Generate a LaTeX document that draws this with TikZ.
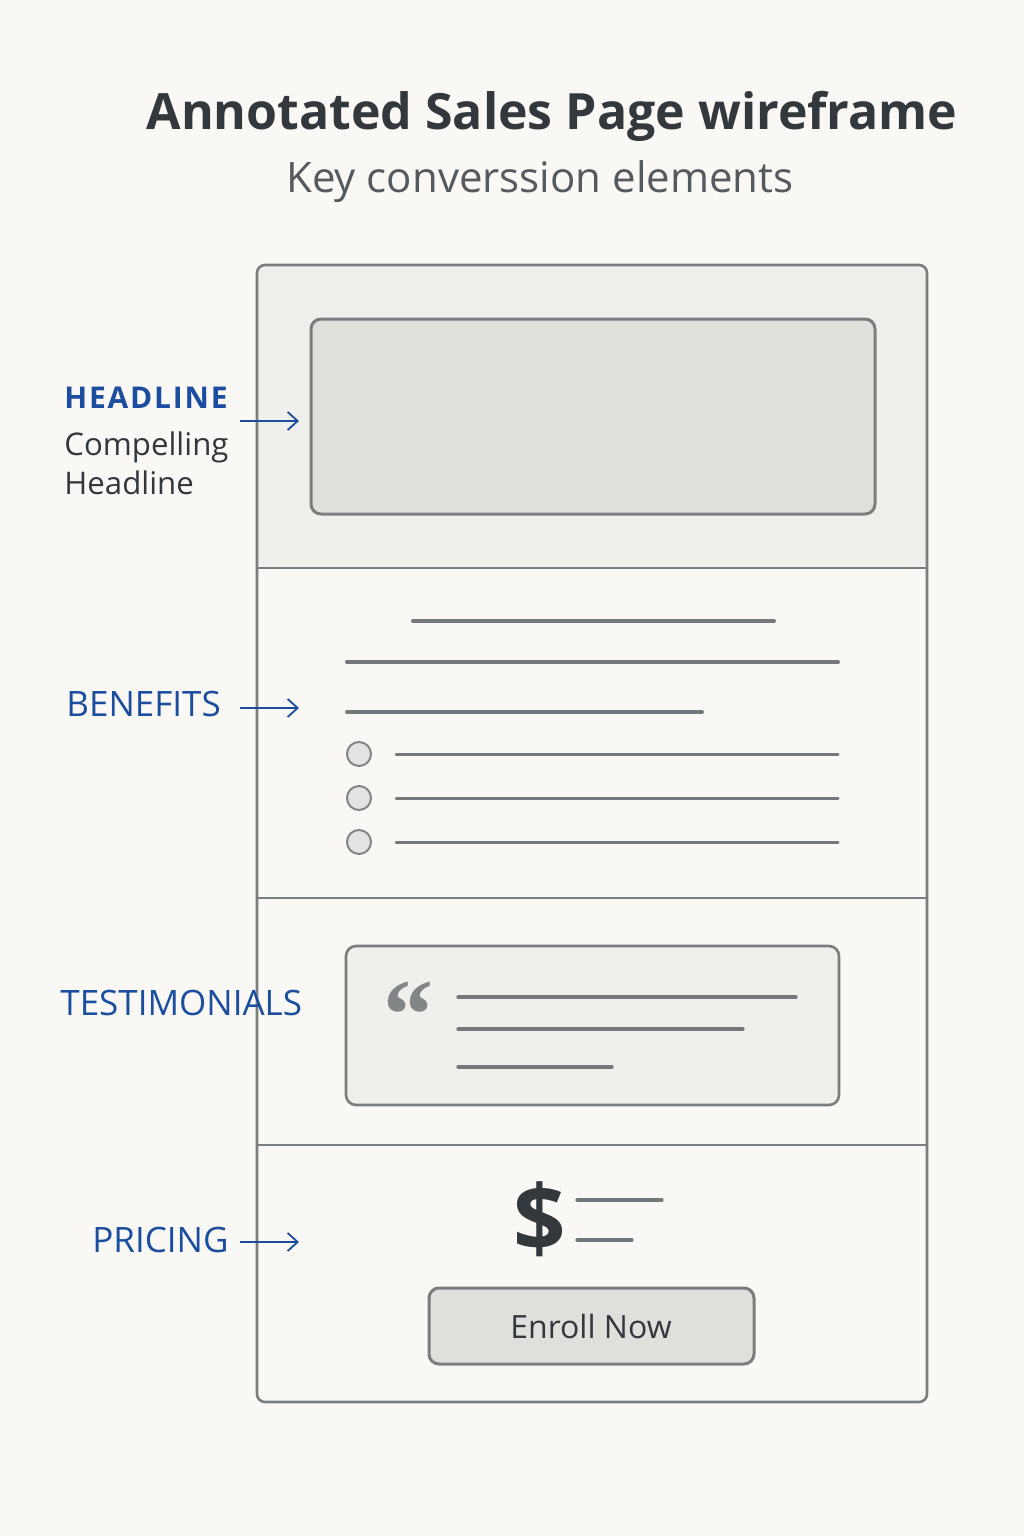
\documentclass[tikz,border=0pt]{standalone}
\usepackage{fontspec}
\setmainfont{Open Sans}
\newfontfamily\quotefont{Liberation Serif}
\usetikzlibrary{arrows.meta}

\definecolor{paper}{HTML}{F9F8F5}
\definecolor{ink}{HTML}{33383D}
\definecolor{subink}{HTML}{555A5E}
\definecolor{tagblue}{HTML}{1B4E9E}
\definecolor{frameGray}{HTML}{7C7E7E}
\definecolor{lineGray}{HTML}{75787A}
\definecolor{heroFill}{HTML}{EFEFEC}
\definecolor{boxFill}{HTML}{DFDFDC}
\definecolor{dotFill}{HTML}{E3E3E1}

\tikzset{
  tag/.style={anchor=base west, text=tagblue, font=\fontsize{17.5}{20}\selectfont, inner sep=0pt},
  textline/.style={line width=2pt, draw=lineGray, line cap=round},
  frameline/.style={line width=1.3pt, draw=frameGray},
  tagarrow/.style={->, line width=0.9pt, draw=tagblue}
}

\begin{document}
\begin{tikzpicture}[x=0.5pt, y=-0.5pt, >={Straight Barb[length=5pt,width=9pt]}]

    \def\Xl{257};
    \def\Xr{927};
    \def\Ytop{265};
    \def\Ya{568};
    \def\Yb{898};
    \def\Yc{1145};
    \def\Ybot{1402};
    \def\Xa{240};
    \def\Xb{299};

    \fill[paper] (0,0) rectangle (1024,1536);
    \useasboundingbox (0,0) rectangle (1024,1536);

    % title
    \node (title) [anchor=base, text=ink, font=\fontsize{25}{30}\selectfont\bfseries, inner sep=0pt] at (552, 129) {Annotated Sales Page wireframe};
    \node (subtitle) [anchor=base, text=subink, font=\fontsize{21}{24}\selectfont, inner sep=0pt] at (540, 192) {Key converssion elements};

    % page frame
    \fill[heroFill, rounded corners=4pt] (\Xl, \Ytop) -- (\Xr, \Ytop) -- (\Xr, \Ya) -- (\Xl, \Ya) -- cycle;
    \draw[frameline, rounded corners=4pt] (\Xl, \Ytop) rectangle (\Xr, \Ybot);
    \draw[frameline] (\Xl, \Ya) -- (\Xr, \Ya);
    \draw[frameline] (\Xl, \Yb) -- (\Xr, \Yb);
    \draw[frameline] (\Xl, \Yc) -- (\Xr, \Yc);

    % headline
    \draw[frameline, fill=boxFill, line width=1.5pt, rounded corners=5pt] (311, 319) rectangle (875, 514);

    % benefits
    \draw[textline] (413, 621) -- (774, 621);
    \draw[textline] (347, 662) -- (838, 662);
    \draw[textline] (347, 712) -- (702, 712);
    \foreach \y in {754, 798, 842} {
        \draw[fill=dotFill, draw=lineGray!90, line width=1pt] (359, \y) circle (12);
        \draw[textline, line width=1.5pt] (396, \y) -- (838, \y);
    }

    % testimonials
    \draw[frameline, fill=heroFill, rounded corners=5pt] (346, 946) rectangle (839, 1105);
    \node (quote) [text=lineGray!90, font=\fontsize{50}{50}\quotefont\bfseries, inner sep=0pt, anchor=north] at (408, 982) {“};
    \draw[textline, line width=1.6pt] (458, 997) -- (796, 997);
    \draw[textline, line width=1.6pt] (458, 1029) -- (743, 1029);
    \draw[textline, line width=1.6pt] (458, 1067) -- (612, 1067);

    % pricing
    \node (dollar) [anchor=base, text=ink, font=\fontsize{46}{50}\selectfont\bfseries, inner sep=0pt] at (540, 1251) {\$};
    \draw[textline, line width=1.6pt] (577, 1200) -- (662, 1200);
    \draw[textline, line width=1.6pt] (577, 1240) -- (632, 1240);
    \draw[frameline, fill=boxFill, line width=1.5pt, rounded corners=5pt] (429, 1288) rectangle (754, 1364);
    \node (enroll) [anchor=base, text=ink, font=\fontsize{16}{18}\selectfont, inner sep=0pt] at (591, 1338) {Enroll Now};

    % labels
    \node (lblHead) [tag, font=\fontsize{15}{18}\selectfont\bfseries\addfontfeatures{LetterSpace=6}] at (64, 408) {HEADLINE};
    \node (lblHeadA) [anchor=base west, text=ink, font=\fontsize{15.6}{18}\selectfont, inner sep=0pt] at (64, 455) {Compelling};
    \node (lblHeadB) [anchor=base west, text=ink, font=\fontsize{15.6}{18}\selectfont, inner sep=0pt] at (64, 494) {Headline};
    \node (lblBen) [tag] at (66, 716) {BENEFITS};
    \node (lblTest) [tag] at (60, 1015) {TESTIMONIALS};
    \node (lblPrice) [tag] at (92, 1252) {PRICING};

    % arrows
    \coordinate (hA) at (\Xa, 421);
    \coordinate (hB) at (\Xb, 421);
    \coordinate (bA) at (\Xa, 708);
    \coordinate (bB) at (\Xb, 708);
    \coordinate (pA) at (\Xa, 1242);
    \coordinate (pB) at (\Xb, 1242);
    \draw[tagarrow] (hA) -- (hB);
    \draw[tagarrow] (bA) -- (bB);
    \draw[tagarrow] (pA) -- (pB);
\end{tikzpicture}
\end{document}
